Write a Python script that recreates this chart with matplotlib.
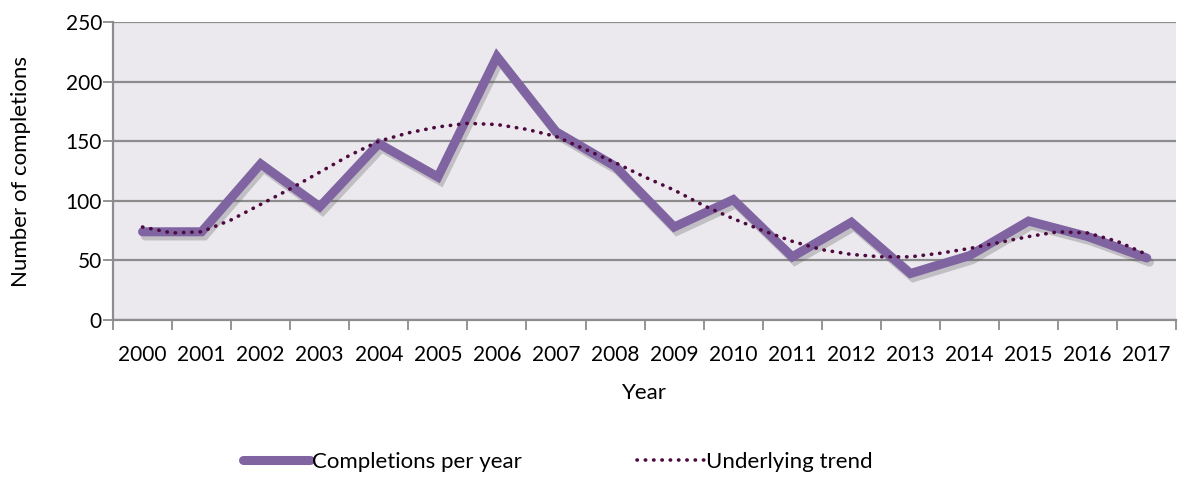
import matplotlib.pyplot as plt
import matplotlib.patheffects as pe

# Data
years = [str(y) for y in range(2000, 2018)]
completions = [74, 74, 131, 95, 148, 120, 221, 158, 129, 78, 101, 53, 82, 39, 54, 83, 70, 52]

# Underlying trend, read at each year and half-year
trend_x = [i * 0.5 for i in range(35)]
trend_y = [78, 73, 74, 84, 97, 110, 124, 138, 150, 157, 162, 165, 164, 160, 154, 143,
           132, 120, 109, 96, 85, 75, 66, 59, 55, 53, 53, 56, 60, 65, 70, 74, 73, 66, 55]

plt.rcParams['font.family'] = ['Lato', 'DejaVu Sans']

fig = plt.figure(figsize=(11.92, 4.79), dpi=100)
ax = fig.add_axes([0.0948, 0.332, 0.892, 0.622])
ax.set_facecolor('#EBE9EE')

x = list(range(len(years)))
ax.plot(x, completions, color='#8064A2', linewidth=6.5, solid_joinstyle='miter',
        solid_capstyle='round', label='Completions per year', zorder=3,
        path_effects=[pe.SimpleLineShadow(offset=(2, -3), shadow_color='#555555', alpha=0.28),
                      pe.Normal()])
ax.plot(trend_x, trend_y, color='#4D0A3F', linewidth=2.6, linestyle=(0, (0.1, 2.2)),
        dash_capstyle='round', label='Underlying trend', zorder=4)

ax.set_xlim(-0.5, len(years) - 0.5)
ax.set_ylim(0, 250)
ax.set_yticks(range(0, 251, 50))
ax.yaxis.grid(True, color='#8C8C8C', linewidth=1.6)
ax.set_axisbelow(True)

ax.set_xticks(x)
ax.set_xticklabels(years)
ax.set_xticks([i - 0.5 for i in range(len(years) + 1)], minor=True)
ax.tick_params(axis='x', which='major', length=0, pad=18, labelsize=15)
ax.tick_params(axis='x', which='minor', length=7, width=1.3, color='#8C8C8C', direction='out')
ax.tick_params(axis='y', length=7, width=1.3, color='#8C8C8C', labelsize=15, pad=1)

for side in ['top', 'right']:
    ax.spines[side].set_visible(False)
for side in ['left', 'bottom']:
    ax.spines[side].set_color('#8C8C8C')
    ax.spines[side].set_linewidth(1.6)

ax.set_xlabel('Year', fontsize=16)
ax.xaxis.set_label_coords(0.5, -0.213)
ax.set_ylabel('Number of completions', fontsize=16)
ax.yaxis.set_label_coords(-0.077, 0.5)

leg = fig.legend(loc='center', bbox_to_anchor=(0.468, 0.035), ncol=2, frameon=False,
                 fontsize=16, handlelength=3.0, columnspacing=5.2, handletextpad=0.1)
# no shadow on the legend key
leg.get_lines()[0].set_path_effects([])

fig.savefig('out.png', dpi=100)
